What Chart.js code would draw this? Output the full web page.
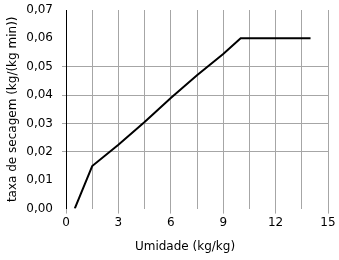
<!DOCTYPE html>
<html>
<head>
<meta charset="utf-8">
<script src="https://cdn.jsdelivr.net/npm/chart.js"></script>
<style>
  html, body { margin: 0; padding: 0; background: #fff; }
  #wrap { width: 339px; height: 260px; }
</style>
</head>
<body>
<div id="wrap"><canvas id="myChart"></canvas></div>
<script>
// data
var umidade = [0.5, 1.5, 3, 4.5, 6, 7.5, 9, 10, 14];
var taxa = [0, 0.015, 0.0225, 0.0305, 0.039, 0.047, 0.0545, 0.06, 0.06];
var xTicks = [0, 3, 6, 9, 12, 15];
var yLabels = ["0,00", "0,01", "0,02", "0,03", "0,04", "0,05", "0,06", "0,07"];
var yGridShown = [0.02, 0.03, 0.04, 0.05];

var gridGrey = "#a6a6a6";
var fontFam = "'DejaVu Sans', Verdana, sans-serif";

var points = umidade.map(function (x, i) {
  return { x: x, y: taxa[i] };
});

function isMajorX(v) {
  return xTicks.some(function (t) { return Math.abs(t - v) < 1e-6; });
}
function showYGrid(v) {
  return yGridShown.some(function (t) { return Math.abs(t - v) < 1e-6; });
}

// x title is drawn by hand, it sits a bit left of the plot centre
var xTitlePlugin = {
  id: "xTitle",
  afterDraw: function (chart) {
    var ctx = chart.ctx;
    var area = chart.chartArea;
    ctx.save();
    ctx.font = "12px " + fontFam;
    ctx.fillStyle = "#000";
    ctx.textAlign = "center";
    ctx.textBaseline = "middle";
    ctx.fillText("Umidade (kg/kg)", (area.left + area.right) / 2 - 12, 247);
    ctx.restore();
  }
};

new Chart("myChart", {
  type: "scatter",
  data: {
    datasets: [{
      data: points,
      showLine: true,
      borderColor: "#000",
      borderWidth: 2,
      pointRadius: 0,
      tension: 0,
      fill: false
    }]
  },
  options: {
    responsive: true,
    maintainAspectRatio: false,
    animation: false,
    layout: { padding: { top: 10, right: 11, bottom: 28, left: 0 } },
    plugins: {
      legend: { display: false },
      tooltip: { enabled: false }
    },
    scales: {
      x: {
        type: "linear",
        min: 0,
        max: 15,
        border: { display: false },
        grid: {
          color: gridGrey,
          lineWidth: 1,
          tickLength: 5,
          tickColor: function (c) {
            return isMajorX(c.tick.value) ? gridGrey : "rgba(0,0,0,0)";
          }
        },
        ticks: {
          stepSize: 1.5,
          autoSkip: false,
          maxRotation: 0,
          padding: 2,
          color: "#000",
          font: { family: fontFam, size: 12 },
          callback: function (v) {
            return isMajorX(v) ? String(Math.round(v)) : "";
          }
        }
      },
      y: {
        min: 0,
        max: 0.07,
        // fixed axis width, and no extra room above/below for the end labels
        afterFit: function (s) {
          s.width = 66;
          s.paddingTop = 0;
          s.paddingBottom = 0;
        },
        border: { display: true, color: "#000", width: 1 },
        grid: {
          lineWidth: 1,
          tickLength: 4,
          color: function (c) {
            return showYGrid(c.tick.value) ? gridGrey : "rgba(0,0,0,0)";
          },
          tickColor: function (c) {
            return showYGrid(c.tick.value) ? gridGrey : "rgba(0,0,0,0)";
          }
        },
        ticks: {
          stepSize: 0.01,
          padding: 9,
          color: "#000",
          font: { family: fontFam, size: 12 },
          callback: function (v) {
            return yLabels[Math.round(v * 100)];
          }
        },
        title: {
          display: true,
          text: "taxa de secagem (kg/(kg min))",
          color: "#000",
          padding: { top: 6, bottom: 0 },
          font: { family: fontFam, size: 12 }
        }
      }
    }
  },
  plugins: [xTitlePlugin]
});
</script>
</body>
</html>
